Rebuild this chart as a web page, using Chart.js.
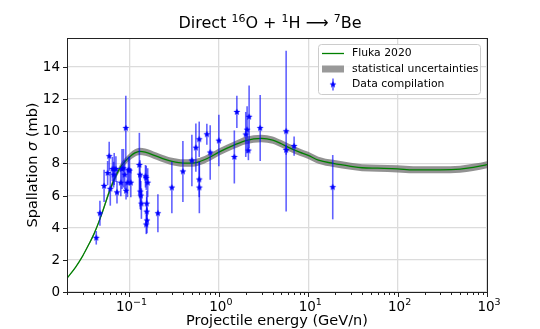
<!DOCTYPE html>
<html>
<head>
<meta charset="utf-8">
<script src="https://cdn.jsdelivr.net/npm/chart.js@4.4.0/dist/chart.umd.min.js"></script>
<style>
  html, body { margin: 0; padding: 0; background: #fff; }
  canvas { display: block; }
</style>
</head>
<body>
<canvas id="chart" width="540" height="329"></canvas>
<script>
/* Direct 16O + 1H -> 7Be spallation cross section: Fluka curve vs data */

// ---- Fluka 2020 model curve (GeV/n, mb) ----
const flukaE     = [0.02, 0.025, 0.03, 0.035, 0.04, 0.045, 0.05, 0.06, 0.07, 0.08, 0.09, 0.1, 0.115, 0.13, 0.15, 0.2, 0.25, 0.3, 0.4, 0.5, 0.6, 0.8, 1, 1.5, 2, 3, 4, 5, 6, 8, 10, 13, 19, 30, 40, 60, 100, 150, 300, 500, 700, 1000];
const flukaSigma = [0.85, 1.55, 2.25, 2.95, 3.6, 4.3, 5.0, 6.3, 7.2, 7.8, 8.15, 8.4, 8.65, 8.75, 8.7, 8.45, 8.25, 8.12, 8.02, 8.02, 8.1, 8.4, 8.7, 9.15, 9.42, 9.55, 9.45, 9.22, 9.0, 8.7, 8.5, 8.2, 8.0, 7.82, 7.73, 7.7, 7.66, 7.6, 7.6, 7.64, 7.75, 7.92];
const flukaStat  = [0.02, 0.03, 0.04, 0.06, 0.08, 0.1, 0.12, 0.15, 0.18, 0.2, 0.22, 0.22, 0.23, 0.23, 0.23, 0.23, 0.23, 0.23, 0.23, 0.23, 0.23, 0.23, 0.23, 0.23, 0.23, 0.23, 0.23, 0.23, 0.23, 0.23, 0.22, 0.22, 0.22, 0.22, 0.22, 0.22, 0.22, 0.22, 0.22, 0.22, 0.22, 0.22];

// ---- data compilation ----
const dataE     = [0.0425, 0.0467, 0.052, 0.057, 0.0593, 0.061, 0.0645, 0.0665, 0.0675, 0.0705, 0.0725, 0.08, 0.0825, 0.0857, 0.0885, 0.091, 0.0915, 0.095, 0.0975, 0.1, 0.1035,
                   0.129, 0.131, 0.132, 0.134, 0.136, 0.151, 0.154, 0.156, 0.156, 0.157, 0.154, 0.16, 0.208,
                   0.298, 0.396, 0.499, 0.553, 0.603, 0.603, 0.605, 0.734, 0.8, 1.0,
                   1.49, 1.59, 2.0, 2.07, 2.14, 2.18, 2.9, 5.66, 5.66, 6.95, 18.8];
const dataSigma = [3.37, 4.9, 6.6, 7.4, 8.45, 6.42, 7.65, 7.3, 7.65, 7.65, 6.2, 6.8, 7.65, 7.7, 7.3, 10.2, 6.3, 6.8, 7.6, 7.55, 6.8,
                   7.9, 7.3, 6.25, 6.0, 5.5, 7.2, 7.1, 5.5, 5.0, 4.45, 4.2, 6.8, 4.9,
                   6.5, 7.5, 8.18, 8.98, 9.5, 7.0, 6.5, 9.81, 8.68, 9.42,
                   8.4, 11.2, 9.8, 10.1, 8.8, 10.9, 10.2, 10.0, 8.83, 9.08, 6.52];
const dataErr   = [0.42, 0.78, 1.0, 0.75, 0.9, 1.05, 0.75, 0.8, 1.0, 0.8, 0.7, 0.85, 1.25, 1.2, 0.9, 2.0, 0.55, 0.9, 0.8, 0.9, 0.9,
                   2.0, 0.9, 1.1, 0.9, 0.95, 0.7, 0.75, 0.8, 0.9, 0.8, 0.6, 0.9, 1.18,
                   1.6, 1.9, 1.6, 1.5, 1.1, 1.1, 1.6, 0.65, 1.7, 1.6,
                   1.65, 1.0, 1.4, 1.45, 0.6, 1.95, 2.05, 5.0, 0.3, 0.6, 2.0];

// ---- axes / text ----
const xTickVals = [0.1, 1, 10, 100, 1000];
const xTickExps = ['\u22121', '0', '1', '2', '3'];
const yTickVals = [0, 2, 4, 6, 8, 10, 12, 14];
const legendLabels = ['Fluka 2020', 'statistical uncertainties', 'Data compilation'];

const GREEN = '#008000', BAND = 'rgba(115,115,115,0.78)', BLUE = '#0000ff', BAR = 'rgba(0,0,255,0.62)';
const FONT = '"DejaVu Sans", sans-serif';

// filled five-point star used as the data marker
function starMarker(r) {
  const c = document.createElement('canvas');
  const s = Math.ceil(r * 2 + 2);
  c.width = s; c.height = s;
  const g = c.getContext('2d');
  g.fillStyle = BLUE;
  g.beginPath();
  for (let i = 0; i < 10; i++) {
    const rad = i % 2 ? r * 0.45 : r;
    const a = -Math.PI / 2 + i * Math.PI / 5;
    g.lineTo(s / 2 + rad * Math.cos(a), s / 2 + rad * Math.sin(a));
  }
  g.closePath(); g.fill();
  return c;
}
const STAR = starMarker(3.6);

function pts(xs, ys) { return xs.map((x, i) => ({ x, y: ys[i] })); }

// draw a run of [text, size, dy, italic] pieces
function richWidth(ctx, parts) {
  let w = 0;
  parts.forEach(p => { ctx.font = (p[3] ? 'italic ' : '') + p[1] + 'px ' + FONT; w += ctx.measureText(p[0]).width; });
  return w;
}
function drawRich(ctx, parts, x, y, align) {
  let cx = align === 'center' ? x - richWidth(ctx, parts) / 2 : x;
  ctx.textAlign = 'left';
  ctx.textBaseline = 'alphabetic';
  parts.forEach(p => {
    ctx.font = (p[3] ? 'italic ' : '') + p[1] + 'px ' + FONT;
    ctx.fillText(p[0], cx, y + (p[2] || 0));
    cx += ctx.measureText(p[0]).width;
  });
}

const errorBars = {
  id: 'errorBars',
  beforeDatasetDraw(chart, args) {
    if (args.index !== 3) return;
    const { ctx, scales: { x, y }, chartArea: a } = chart;
    ctx.save();
    ctx.beginPath(); ctx.rect(a.left, a.top, a.width, a.height); ctx.clip();
    ctx.strokeStyle = BAR; ctx.lineWidth = 1.6;
    dataE.forEach((e, i) => {
      const px = x.getPixelForValue(e);
      ctx.beginPath();
      ctx.moveTo(px, y.getPixelForValue(dataSigma[i] - dataErr[i]));
      ctx.lineTo(px, y.getPixelForValue(dataSigma[i] + dataErr[i]));
      ctx.stroke();
    });
    ctx.restore();
  }
};

const frame = {
  id: 'frame',
  afterDraw(chart) {
    const { ctx, scales: { x, y }, chartArea: a } = chart;
    ctx.save();
    // spines
    ctx.strokeStyle = '#222'; ctx.lineWidth = 1;
    ctx.strokeRect(Math.round(a.left) + 0.5, Math.round(a.top) + 0.5, Math.round(a.width), Math.round(a.height));
    const bottom = Math.round(a.bottom) + 0.5, left = Math.round(a.left) + 0.5;
    // x ticks (major + minor)
    ctx.beginPath();
    xTickVals.forEach(v => { const px = Math.round(x.getPixelForValue(v)) + 0.5; ctx.moveTo(px, bottom); ctx.lineTo(px, bottom + 4.5); });
    for (let d = 0.01; d < 1000; d *= 10) {
      for (let m = 2; m <= 9; m++) {
        const v = d * m;
        if (v < x.min || v > x.max) continue;
        const px = Math.round(x.getPixelForValue(v)) + 0.5;
        ctx.moveTo(px, bottom); ctx.lineTo(px, bottom + 2.5);
      }
    }
    yTickVals.forEach(v => { const py = Math.round(y.getPixelForValue(v)) + 0.5; ctx.moveTo(left, py); ctx.lineTo(left - 4.5, py); });
    ctx.stroke();
    // tick labels
    ctx.fillStyle = '#000';
    xTickVals.forEach((v, i) => {
      drawRich(ctx, [['10', 13.5, 0], [xTickExps[i], 9.5, -6]], x.getPixelForValue(v) + 2, a.bottom + 19, 'center');
    });
    ctx.font = '13.5px ' + FONT; ctx.textAlign = 'right'; ctx.textBaseline = 'middle';
    yTickVals.forEach(v => ctx.fillText(String(v), a.left - 7, y.getPixelForValue(v) + 0.5));
    // axis titles
    drawRich(ctx, [['Projectile energy (GeV/n)', 14.5, 0]], (a.left + a.right) / 2, 325, 'center');
    ctx.save();
    ctx.translate(37, (a.top + a.bottom) / 2);
    ctx.rotate(-Math.PI / 2);
    drawRich(ctx, [['Spallation ', 14.5, 0], ['\u03c3', 14.5, 0, true], [' (mb)', 14.5, 0]], 0, 0, 'center');
    ctx.restore();
    // title
    drawRich(ctx, [['Direct ', 16, 0], ['16', 11, -6.5], ['O + ', 16, 0], ['1', 11, -6.5], ['H ', 16, 0],
                   ['\u27f6', 16, 0], [' ', 16, 0], ['7', 11, -6.5], ['Be', 16, 0]], 270, 28, 'center');
    // legend
    const lx = 318.5, ly = 44.5, lw = 162, lh = 50;
    ctx.fillStyle = 'rgba(255,255,255,0.85)'; ctx.strokeStyle = '#cccccc'; ctx.lineWidth = 1;
    ctx.beginPath(); ctx.roundRect(lx, ly, lw, lh, 3); ctx.fill(); ctx.stroke();
    const rows = [53.5, 69, 84.5];
    ctx.strokeStyle = GREEN; ctx.lineWidth = 1.3;
    ctx.beginPath(); ctx.moveTo(322, rows[0]); ctx.lineTo(344, rows[0]); ctx.stroke();
    ctx.fillStyle = '#999'; ctx.fillRect(322, rows[1] - 3.5, 22, 7);
    ctx.strokeStyle = BAR; ctx.lineWidth = 1.6;
    ctx.beginPath(); ctx.moveTo(333, rows[2] - 6); ctx.lineTo(333, rows[2] + 6); ctx.stroke();
    ctx.drawImage(STAR, 333 - STAR.width / 2, rows[2] - STAR.height / 2);
    ctx.fillStyle = '#000'; ctx.font = '10.8px ' + FONT; ctx.textAlign = 'left'; ctx.textBaseline = 'middle';
    legendLabels.forEach((t, i) => ctx.fillText(t, 352, rows[i]));
    ctx.restore();
  }
};

new Chart(document.getElementById('chart'), {
  type: 'scatter',
  data: {
    datasets: [
      { label: legendLabels[0], data: pts(flukaE, flukaSigma), showLine: true, borderColor: GREEN, borderWidth: 1.3,
        pointRadius: 0, cubicInterpolationMode: 'monotone', fill: false, order: 1 },
      { label: 'band upper', data: pts(flukaE, flukaSigma.map((s, i) => s + flukaStat[i])), showLine: true, borderWidth: 0,
        borderColor: 'rgba(0,0,0,0)', backgroundColor: BAND, pointRadius: 0, cubicInterpolationMode: 'monotone', fill: '+1', order: 2 },
      { label: 'band lower', data: pts(flukaE, flukaSigma.map((s, i) => s - flukaStat[i])), showLine: true, borderWidth: 0,
        borderColor: 'rgba(0,0,0,0)', pointRadius: 0, cubicInterpolationMode: 'monotone', fill: false, order: 2 },
      { label: legendLabels[2], data: pts(dataE, dataSigma), showLine: false, pointStyle: STAR, pointRadius: 3.6,
        backgroundColor: BLUE, borderColor: BLUE, order: 0 }
    ]
  },
  options: {
    responsive: false, animation: false, events: [],
    layout: { padding: { left: 67, right: 53, top: 38, bottom: 37 } },
    scales: {
      x: {
        type: 'logarithmic', min: 0.02, max: 1000,
        afterBuildTicks: s => { s.ticks = xTickVals.map(v => ({ value: v })); },
        ticks: { display: false },
        grid: { color: '#dcdcdc', lineWidth: 1.3, drawTicks: false },
        border: { display: false }
      },
      y: {
        type: 'linear', min: 0, max: 15.8,
        afterBuildTicks: s => { s.ticks = yTickVals.map(v => ({ value: v })); },
        ticks: { display: false },
        grid: { color: '#dcdcdc', lineWidth: 1.3, drawTicks: false },
        border: { display: false }
      }
    },
    plugins: { legend: { display: false }, tooltip: { enabled: false }, title: { display: false } }
  },
  plugins: [errorBars, frame]
});
</script>
</body>
</html>
